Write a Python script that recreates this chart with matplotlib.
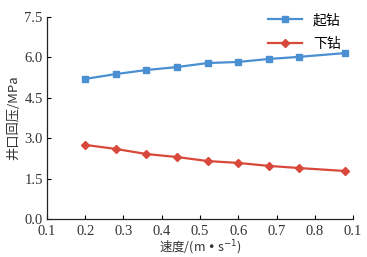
import matplotlib.pyplot as plt

speed = [0.2, 0.28, 0.36, 0.44, 0.52, 0.6, 0.68, 0.76, 0.88]
trip_out = [5.20, 5.38, 5.53, 5.64, 5.79, 5.83, 5.94, 6.02, 6.16]
trip_in = [2.75, 2.60, 2.41, 2.30, 2.15, 2.08, 1.97, 1.89, 1.78]
xticks = [0.1, 0.2, 0.3, 0.4, 0.5, 0.6, 0.7, 0.8, 0.9]
xticklabels = ['0.1', '0.2', '0.3', '0.4', '0.5', '0.6', '0.7', '0.8', '0.1']
yticks = [0.0, 1.5, 3.0, 4.5, 6.0, 7.5]

serif = ['Liberation Serif', 'Noto Sans CJK SC']
cjk = ['Noto Sans CJK SC', 'Liberation Serif', 'DejaVu Sans']

fig = plt.figure(figsize=(3.67, 2.57), dpi=100)
ax = fig.add_axes([0.128, 0.148, 0.834, 0.786])

ax.plot(speed, trip_out, color='#4a8fd2', marker='s', markersize=4.5, lw=1.6, label='起钻')
ax.plot(speed, trip_in, color='#d9493b', marker='D', markersize=4, lw=1.6, label='下钻')

ax.set_xlim(0.1, 0.9)
ax.set_ylim(0, 7.5)
ax.set_xticks(xticks)
ax.set_xticklabels(xticklabels, family=serif, fontsize=10.5, color='#333333')
ax.set_yticks(yticks)
ax.set_yticklabels(['%.1f' % v for v in yticks], family=serif, fontsize=10.5, color='#333333')
ax.tick_params(direction='in', length=3, width=0.8)
ax.tick_params(axis='x', pad=4)
ax.tick_params(axis='y', pad=3)

for s in ['top', 'right']:
    ax.spines[s].set_visible(False)
for s in ['left', 'bottom']:
    ax.spines[s].set_linewidth(0.9)
    ax.spines[s].set_color('#222222')

ax.set_ylabel('井口回压/MPa', family=cjk, fontsize=9.5, color='#333333', labelpad=3)
ax.set_xlabel('速度/(m • s$^{-1}$)', family=cjk, fontsize=9, color='#333333', labelpad=1)

leg = ax.legend(loc='upper right', bbox_to_anchor=(1.0, 1.08), frameon=False,
                prop={'family': cjk, 'size': 10}, handlelength=2.4, labelspacing=0.7)

fig.savefig('out.png', dpi=100)
